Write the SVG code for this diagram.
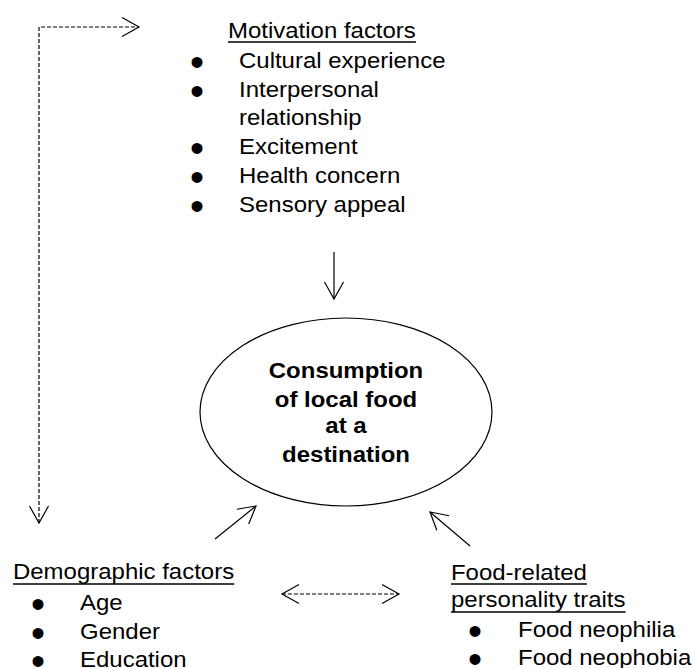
<svg xmlns="http://www.w3.org/2000/svg" width="694" height="668" viewBox="0 0 694 668">
  <style>
    .t { font-family: "Liberation Sans", Arial, sans-serif; font-size: 22px; fill: #000; }
    .b { font-family: "Liberation Sans", Arial, sans-serif; font-size: 22px; font-weight: bold; fill: #000; text-anchor: middle; }
    .bul { font-family: "Liberation Sans", Arial, sans-serif; font-size: 40px; fill: #000; text-anchor: middle; }
    .ul { stroke: #000; stroke-width: 1.5; }
    .conn { fill: none; stroke: #000; stroke-width: 1.2; }
    .dash { stroke-dasharray: 4 2; }
  </style>
  <defs>
    <marker id="open" markerUnits="userSpaceOnUse" viewBox="-20 -12 22 24" refX="0" refY="0" markerWidth="22" markerHeight="24" orient="auto-start-reverse" overflow="visible">
      <path d="M-17,-9.5 L0,0 L-17,9.5" fill="none" stroke="#000" stroke-width="1.2"/>
    </marker>
  </defs>

  <rect width="694" height="668" fill="#fff"/>

  <!-- connectors -->
  <g id="connectors">
    <polyline class="conn dash" points="39,523 39,27 139,27" marker-start="url(#open)" marker-end="url(#open)"/>
    <line class="conn dash" x1="282" y1="594" x2="399" y2="594" marker-start="url(#open)" marker-end="url(#open)"/>
    <line class="conn" x1="334" y1="252" x2="334" y2="299" marker-end="url(#open)"/>
    <line class="conn" x1="215" y1="539" x2="256" y2="506" marker-end="url(#open)"/>
    <line class="conn" x1="470" y1="546" x2="430" y2="512" marker-end="url(#open)"/>
  </g>

  <!-- motivation factors -->
  <g id="motivation">
    <g transform="translate(239,0) scale(1.09,1)">
      <text class="t" x="-10.1" y="38">Motivation factors</text>
      <line class="ul" x1="-10.1" y1="42" x2="162.3" y2="42"/>
      <text class="t" x="0" y="68">Cultural experience</text>
      <text class="t" x="0" y="97">Interpersonal</text>
      <text class="t" x="0" y="125">relationship</text>
      <text class="t" x="0" y="154">Excitement</text>
      <text class="t" x="0" y="183">Health concern</text>
      <text class="t" x="0" y="212">Sensory appeal</text>
    </g>
    <text class="bul" x="197" y="75.5">•</text>
    <text class="bul" x="197" y="104.5">•</text>
    <text class="bul" x="197" y="161.5">•</text>
    <text class="bul" x="197" y="190.5">•</text>
    <text class="bul" x="197" y="219.5">•</text>
  </g>

  <!-- central outcome -->
  <g id="consumption">
    <ellipse cx="346" cy="412" rx="146" ry="94" fill="none" stroke="#000" stroke-width="1.2"/>
    <g transform="translate(346,0) scale(1.09,1)">
      <text class="b" x="0" y="378">Consumption</text>
      <text class="b" x="0" y="407">of local food</text>
      <text class="b" x="0" y="433">at a</text>
      <text class="b" x="0" y="462">destination</text>
    </g>
  </g>

  <!-- demographic factors -->
  <g id="demographic">
    <g transform="translate(80,0) scale(1.09,1)">
      <text class="t" x="-61.5" y="579">Demographic factors</text>
      <line class="ul" x1="-61.5" y1="584" x2="141.5" y2="584"/>
      <text class="t" x="0" y="610">Age</text>
      <text class="t" x="0" y="639">Gender</text>
      <text class="t" x="0" y="667">Education</text>
    </g>
    <text class="bul" x="38" y="617.5">•</text>
    <text class="bul" x="38" y="646.5">•</text>
    <text class="bul" x="38" y="674.5">•</text>
  </g>

  <!-- food-related personality traits -->
  <g id="personality">
    <g transform="translate(518,0) scale(1.09,1)">
      <text class="t" x="-61.5" y="580">Food-related</text>
      <line class="ul" x1="-61.5" y1="584" x2="63.2" y2="584"/>
      <text class="t" x="-61.5" y="607">personality traits</text>
      <line class="ul" x1="-61.5" y1="612" x2="98.7" y2="612"/>
      <text class="t" x="0" y="637">Food neophilia</text>
      <text class="t" x="0" y="665">Food neophobia</text>
    </g>
    <text class="bul" x="475" y="644.5">•</text>
    <text class="bul" x="475" y="672.5">•</text>
  </g>
</svg>
